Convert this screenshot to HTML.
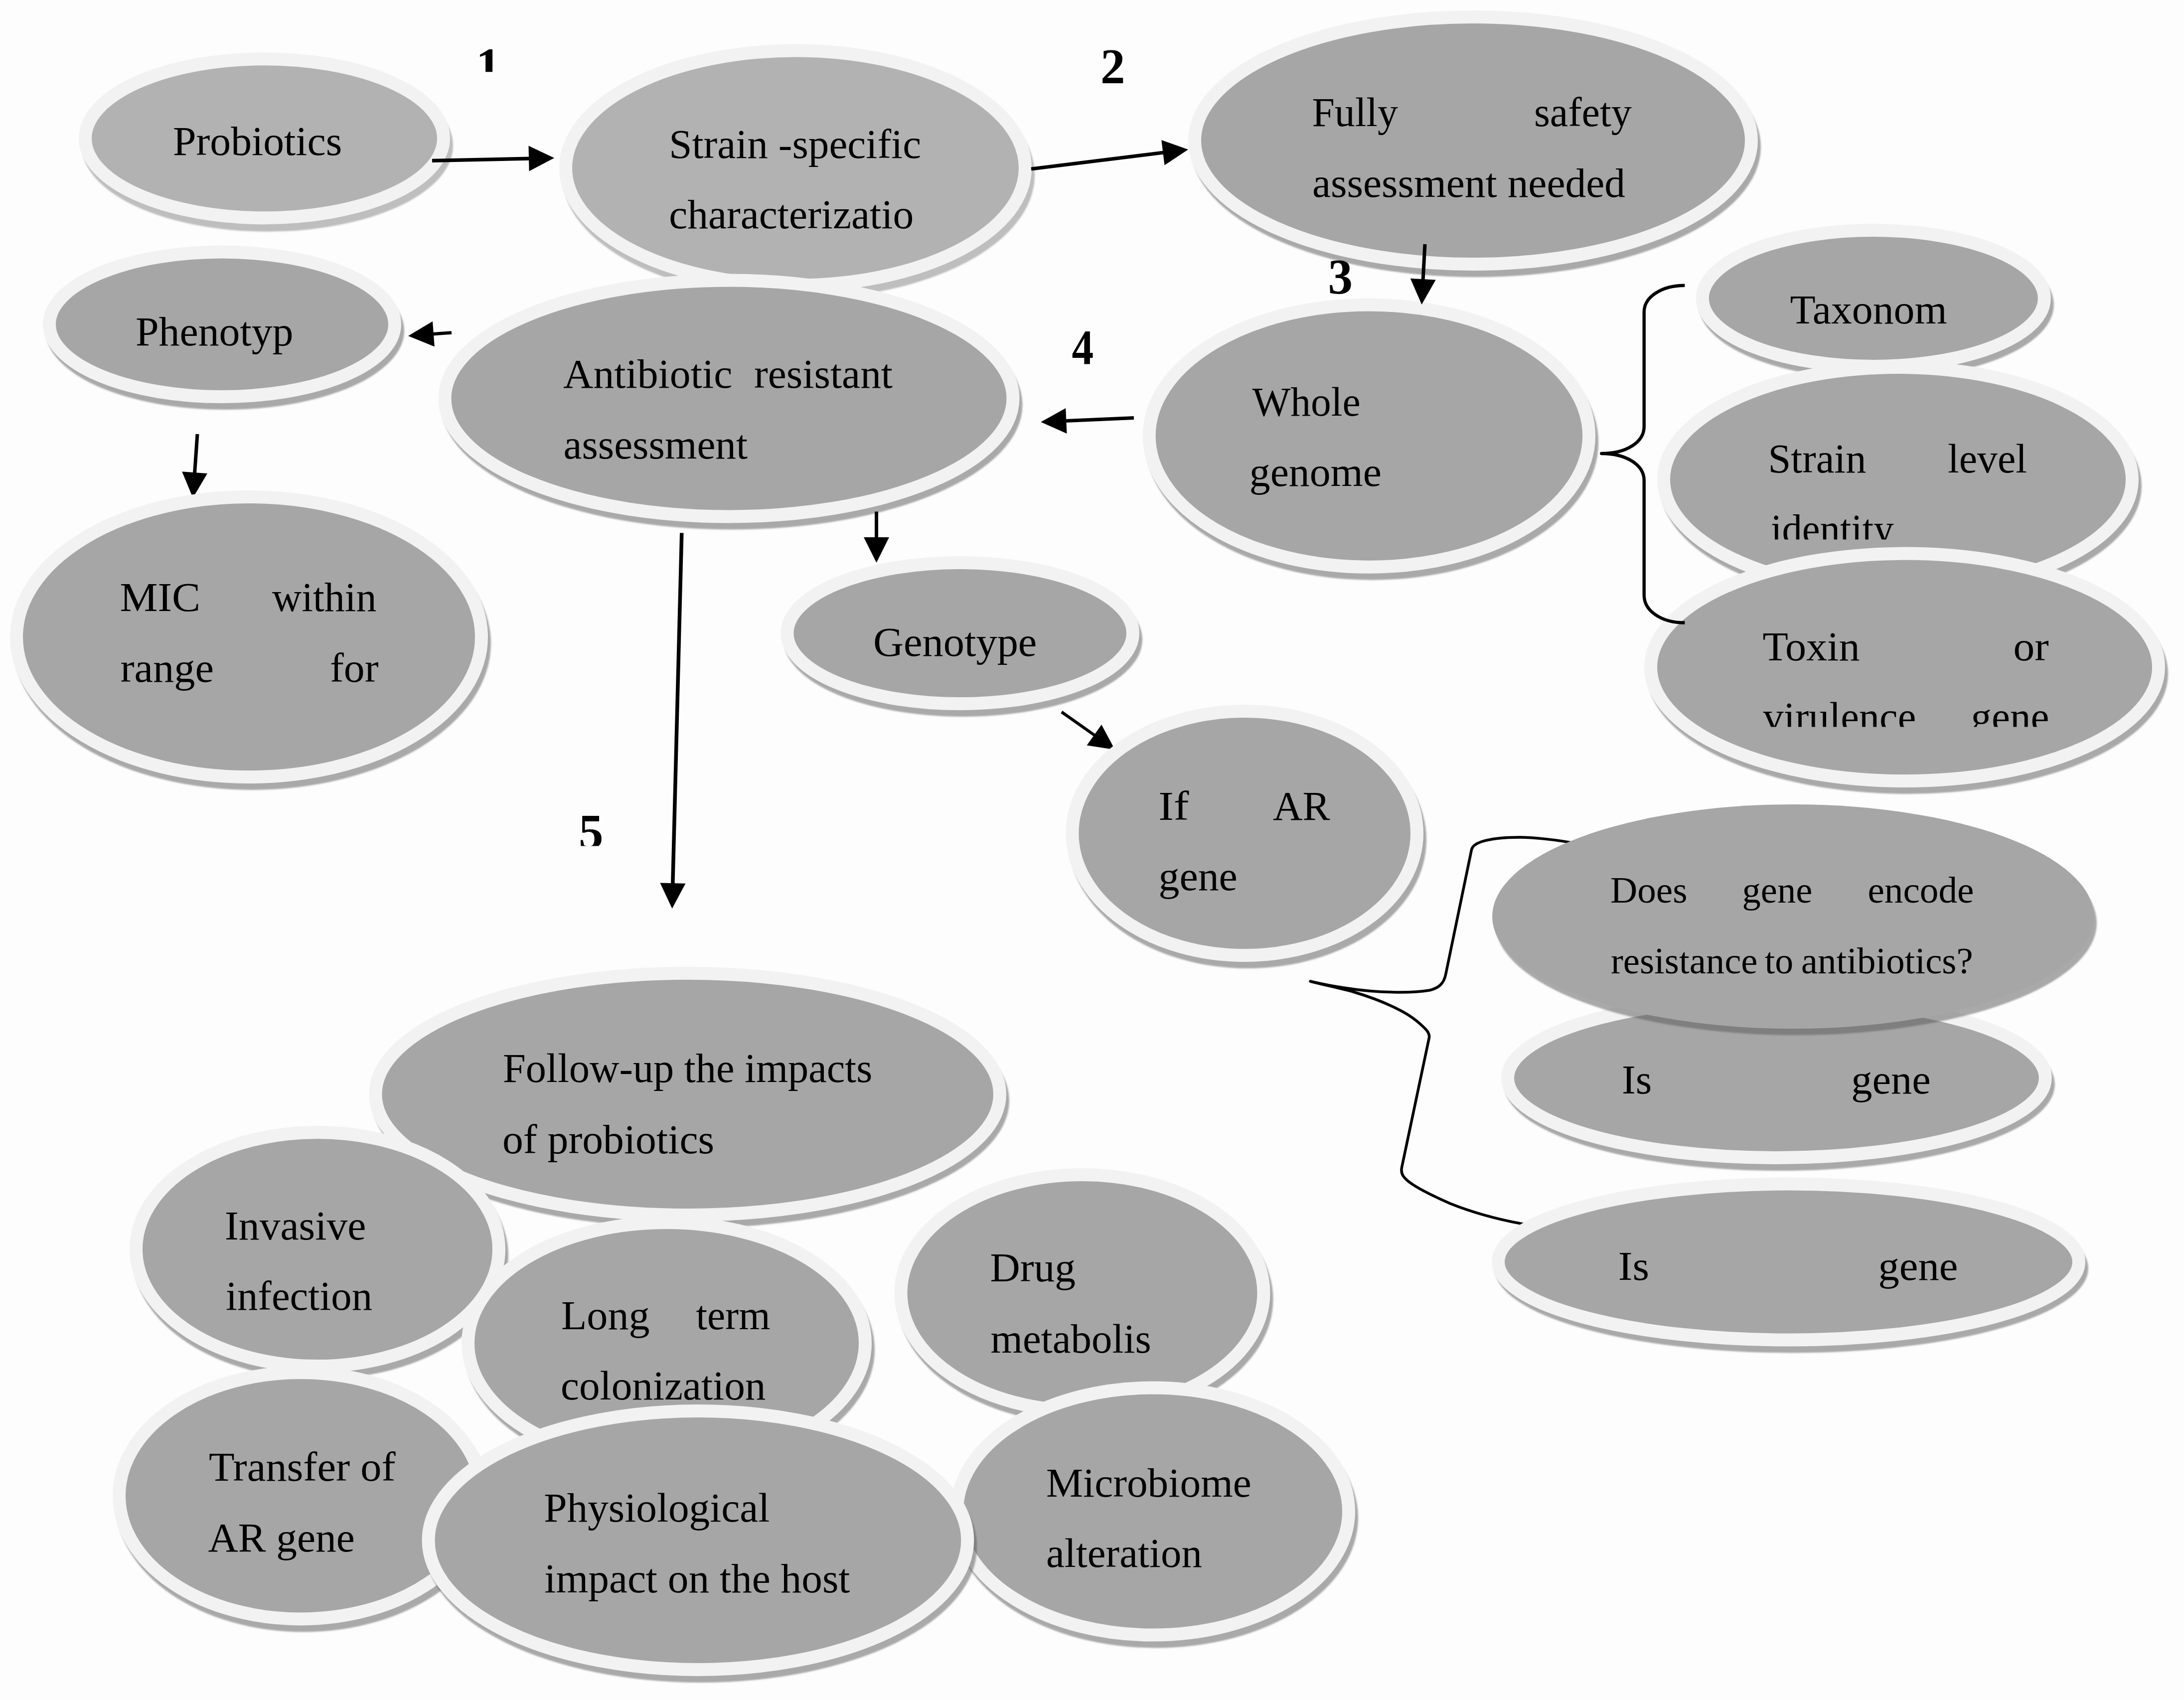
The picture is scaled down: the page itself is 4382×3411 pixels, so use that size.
<!DOCTYPE html><html><head><meta charset="utf-8"><title>Probiotics safety assessment</title>
<style>html,body{margin:0;padding:0;background:#fdfdfd}svg{display:block}text{font-family:"Liberation Serif",serif;fill:#000}.b{font-weight:bold}</style></head><body>
<svg width="4382" height="3411" viewBox="0 0 4382 3411">
<defs><filter id="bl" x="-5%" y="-5%" width="110%" height="115%"><feGaussianBlur stdDeviation="1.5"/></filter>
<clipPath id="c_slevel"><rect x="3400" y="980" width="700" height="102.5"/></clipPath>
<clipPath id="c_toxin"><rect x="3400" y="1350" width="900" height="108.5"/></clipPath>
<clipPath id="cn0"><rect x="925" y="44.5" width="160" height="99.7"/></clipPath>
<clipPath id="cn4"><rect x="1131" y="1582.4" width="160" height="115.2"/></clipPath>
</defs>
<rect width="4382" height="3411" fill="#fdfdfd"/>
<path d="M3165,1693 C3120,1684 3070,1680 3050,1680 C3020,1680 2990,1683 2972,1689 C2960,1693 2954,1698 2952.5,1705 L2900.5,1956 C2896.5,1975 2885,1983 2868,1987 C2850,1990 2830,1991 2810,1991 C2770,1991 2735,1988 2700,1982.5 C2675,1979 2650,1974 2629,1969 C2660,1977 2690,1983 2715,1990 C2745,1999 2775,2010 2800,2022.5 C2820,2032 2838,2044 2850,2055 C2860,2064 2869,2072 2867.5,2082 L2812.5,2342.5 C2810,2355 2815,2364 2835,2377 C2858,2392 2885,2404 2910,2415 C2955,2433 3005,2447 3062,2457" fill="none" stroke="#000" stroke-width="5.5" stroke-linecap="round" stroke-linejoin="round"/>
<ellipse cx="536.5" cy="292.2" rx="372.5" ry="172.5" fill="#000" fill-opacity="0.25" filter="url(#bl)"/><ellipse cx="530.5" cy="277.7" rx="359.5" ry="159.5" fill="#b2b2b2" stroke="#f2f2f2" stroke-width="26"/>
<ellipse cx="1602.0" cy="351.5" rx="474.0" ry="248.5" fill="#000" fill-opacity="0.25" filter="url(#bl)"/><ellipse cx="1596.0" cy="337.0" rx="461.0" ry="235.5" fill="#b2b2b2" stroke="#f2f2f2" stroke-width="26"/>
<ellipse cx="451.5" cy="663.8" rx="359.5" ry="158.2" fill="#5a5a5a" fill-opacity="0.52" filter="url(#bl)"/><ellipse cx="445.5" cy="650.8" rx="346.5" ry="145.2" fill="#a6a6a6" stroke="#f2f2f2" stroke-width="26"/>
<ellipse cx="1468.5" cy="812.5" rx="583.0" ry="250.0" fill="#5a5a5a" fill-opacity="0.52" filter="url(#bl)"/><ellipse cx="1462.5" cy="799.5" rx="570.0" ry="237.0" fill="#a6a6a6" stroke="#f2f2f2" stroke-width="26"/>
<line x1="396.0" y1="871.0" x2="390.5" y2="950.1" stroke="#000" stroke-width="7"/><polygon points="387.1,999.0 365.2,946.3 416.0,949.9" fill="#000"/>
<ellipse cx="505.5" cy="1291.0" rx="479.5" ry="294.0" fill="#5a5a5a" fill-opacity="0.52" filter="url(#bl)"/><ellipse cx="499.5" cy="1278.0" rx="466.5" ry="281.0" fill="#a6a6a6" stroke="#f2f2f2" stroke-width="26"/>
<ellipse cx="1932.2" cy="1283.5" rx="359.8" ry="154.5" fill="#5a5a5a" fill-opacity="0.52" filter="url(#bl)"/><ellipse cx="1926.2" cy="1270.5" rx="346.8" ry="141.5" fill="#a6a6a6" stroke="#f2f2f2" stroke-width="26"/>
<line x1="2130.0" y1="1428.5" x2="2197.0" y2="1475.9" stroke="#000" stroke-width="6"/><polygon points="2237.0,1504.2 2180.6,1495.6 2210.1,1453.9" fill="#000"/>
<ellipse cx="2503.2" cy="1685.0" rx="358.8" ry="258.0" fill="#5a5a5a" fill-opacity="0.52" filter="url(#bl)"/><ellipse cx="2497.2" cy="1672.0" rx="345.8" ry="245.0" fill="#a6a6a6" stroke="#f2f2f2" stroke-width="26"/>
<ellipse cx="2961.5" cy="295.0" rx="571.5" ry="261.0" fill="#5a5a5a" fill-opacity="0.52" filter="url(#bl)"/><ellipse cx="2955.5" cy="282.0" rx="558.5" ry="248.0" fill="#a6a6a6" stroke="#f2f2f2" stroke-width="26"/>
<ellipse cx="2752.9" cy="887.6" rx="454.2" ry="276.1" fill="#5a5a5a" fill-opacity="0.52" filter="url(#bl)"/><ellipse cx="2746.9" cy="874.6" rx="441.2" ry="263.1" fill="#a6a6a6" stroke="#f2f2f2" stroke-width="26"/>
<ellipse cx="3764.8" cy="611.5" rx="356.0" ry="149.5" fill="#5a5a5a" fill-opacity="0.52" filter="url(#bl)"/><ellipse cx="3758.8" cy="598.5" rx="343.0" ry="136.5" fill="#a6a6a6" stroke="#f2f2f2" stroke-width="26"/>
<ellipse cx="3814.0" cy="975.0" rx="483.0" ry="238.0" fill="#5a5a5a" fill-opacity="0.52" filter="url(#bl)"/><ellipse cx="3808.0" cy="962.0" rx="470.0" ry="225.0" fill="#a6a6a6" stroke="#f2f2f2" stroke-width="26"/>
<ellipse cx="3827.5" cy="1351.8" rx="522.5" ry="241.2" fill="#5a5a5a" fill-opacity="0.52" filter="url(#bl)"/><ellipse cx="3821.5" cy="1338.8" rx="509.5" ry="228.2" fill="#a6a6a6" stroke="#f2f2f2" stroke-width="26"/>
<ellipse cx="3570.4" cy="2176.0" rx="552.4" ry="173.0" fill="#5a5a5a" fill-opacity="0.52" filter="url(#bl)"/><ellipse cx="3564.4" cy="2163.0" rx="539.4" ry="160.0" fill="#a6a6a6" stroke="#f2f2f2" stroke-width="26"/>
<ellipse cx="3603.5" cy="1852.0" rx="603.5" ry="225.0" fill="#5a5a5a" fill-opacity="0.52" filter="url(#bl)"/><ellipse cx="3597.5" cy="1839.0" rx="603.5" ry="225.0" fill="#a6a6a6"/>
<ellipse cx="3594.5" cy="2545.0" rx="595.5" ry="169.5" fill="#5a5a5a" fill-opacity="0.52" filter="url(#bl)"/><ellipse cx="3588.5" cy="2532.0" rx="582.5" ry="156.5" fill="#a6a6a6" stroke="#f2f2f2" stroke-width="26"/>
<ellipse cx="1385.7" cy="2208.4" rx="639.3" ry="255.7" fill="#5a5a5a" fill-opacity="0.52" filter="url(#bl)"/><ellipse cx="1379.7" cy="2195.4" rx="626.3" ry="242.7" fill="#a6a6a6" stroke="#f2f2f2" stroke-width="26"/>
<ellipse cx="643.0" cy="2519.5" rx="377.0" ry="247.5" fill="#5a5a5a" fill-opacity="0.52" filter="url(#bl)"/><ellipse cx="637.0" cy="2506.5" rx="364.0" ry="234.5" fill="#a6a6a6" stroke="#f2f2f2" stroke-width="26"/>
<ellipse cx="1343.5" cy="2708.0" rx="411.5" ry="255.0" fill="#5a5a5a" fill-opacity="0.52" filter="url(#bl)"/><ellipse cx="1337.5" cy="2695.0" rx="398.5" ry="242.0" fill="#a6a6a6" stroke="#f2f2f2" stroke-width="26"/>
<ellipse cx="609.0" cy="3014.2" rx="377.0" ry="260.2" fill="#5a5a5a" fill-opacity="0.52" filter="url(#bl)"/><ellipse cx="603.0" cy="3001.2" rx="364.0" ry="247.2" fill="#a6a6a6" stroke="#f2f2f2" stroke-width="26"/>
<ellipse cx="2177.5" cy="2607.0" rx="377.0" ry="250.0" fill="#5a5a5a" fill-opacity="0.52" filter="url(#bl)"/><ellipse cx="2171.5" cy="2594.0" rx="364.0" ry="237.0" fill="#a6a6a6" stroke="#f2f2f2" stroke-width="26"/>
<ellipse cx="2319.0" cy="3045.5" rx="406.0" ry="261.0" fill="#5a5a5a" fill-opacity="0.52" filter="url(#bl)"/><ellipse cx="2313.0" cy="3032.5" rx="393.0" ry="248.0" fill="#a6a6a6" stroke="#f2f2f2" stroke-width="26"/>
<ellipse cx="1406.4" cy="3103.5" rx="553.9" ry="272.5" fill="#5a5a5a" fill-opacity="0.52" filter="url(#bl)"/><ellipse cx="1400.4" cy="3090.5" rx="540.9" ry="259.5" fill="#a6a6a6" stroke="#f2f2f2" stroke-width="26"/>
<path d="M3380.3,572.8 C3335,572.8 3298.7,595 3298.7,626 L3298.7,856 C3298.7,888 3262,910 3213.3,910 C3262,910 3298.7,932 3298.7,964 L3298.7,1194 C3298.7,1227 3335,1249.5 3380.3,1249.5" fill="none" stroke="#000" stroke-width="6.4" stroke-linejoin="round"/>
<line x1="867.0" y1="322.4" x2="1063.0" y2="318.1" stroke="#000" stroke-width="7.4"/><polygon points="1112.0,317.0 1061.6,343.6 1060.5,292.6" fill="#000"/>
<line x1="2069.0" y1="339.0" x2="2335.4" y2="306.0" stroke="#000" stroke-width="7"/><polygon points="2384.0,300.0 2336.5,331.6 2330.3,281.0" fill="#000"/>
<line x1="2859.0" y1="490.0" x2="2855.1" y2="562.1" stroke="#000" stroke-width="7"/><polygon points="2852.5,611.0 2829.8,558.7 2880.7,561.4" fill="#000"/>
<line x1="2275.0" y1="838.6" x2="2137.4" y2="844.6" stroke="#000" stroke-width="7"/><polygon points="2088.4,846.8 2138.2,819.1 2140.5,870.0" fill="#000"/>
<line x1="906.0" y1="667.5" x2="867.9" y2="670.3" stroke="#000" stroke-width="6.5"/><polygon points="819.0,674.0 868.0,644.8 871.8,695.6" fill="#000"/>
<line x1="1758.5" y1="1026.5" x2="1758.5" y2="1080.0" stroke="#000" stroke-width="7"/><polygon points="1758.5,1129.0 1733.0,1078.0 1784.0,1078.0" fill="#000"/>
<line x1="1367.8" y1="1069.3" x2="1349.8" y2="1774.0" stroke="#000" stroke-width="7.5"/><polygon points="1348.6,1823.0 1324.4,1771.4 1375.4,1772.7" fill="#000"/>
<text id="t0" x="346.98" y="311.0" font-size="83" textLength="339.33" lengthAdjust="spacingAndGlyphs">Probiotics</text>
<text id="t1" x="1342.19" y="317.0" font-size="83" textLength="505.96" lengthAdjust="spacingAndGlyphs">Strain -specific</text>
<text id="t2" x="1342.18" y="458.0" font-size="83" textLength="491.03" lengthAdjust="spacingAndGlyphs">characterizatio</text>
<text id="t3" x="271.98" y="692.5" font-size="83" textLength="316.54" lengthAdjust="spacingAndGlyphs">Phenotyp</text>
<text id="t4" x="1130.00" y="777.5" font-size="83" textLength="339.35" lengthAdjust="spacingAndGlyphs">Antibiotic</text>
<text id="t5" x="1512.99" y="777.5" font-size="83" textLength="278.07" lengthAdjust="spacingAndGlyphs">resistant</text>
<text id="t6" x="1130.50" y="920.0" font-size="83" textLength="369.56" lengthAdjust="spacingAndGlyphs">assessment</text>
<text id="t7" x="240.44" y="1226.0" font-size="83" textLength="161.55" lengthAdjust="spacingAndGlyphs">MIC</text>
<text id="t8" x="546.00" y="1226.0" font-size="83" textLength="209.49" lengthAdjust="spacingAndGlyphs">within</text>
<text id="t9" x="241.48" y="1367.5" font-size="83" textLength="187.40" lengthAdjust="spacingAndGlyphs">range</text>
<text id="t10" x="661.98" y="1367.5" font-size="83" textLength="97.66" lengthAdjust="spacingAndGlyphs">for</text>
<text id="t11" x="1751.95" y="1316.0" font-size="83" textLength="328.44" lengthAdjust="spacingAndGlyphs">Genotype</text>
<text id="t12" x="2324.17" y="1644.5" font-size="83" textLength="61.43" lengthAdjust="spacingAndGlyphs">If</text>
<text id="t13" x="2554.00" y="1644.5" font-size="83" textLength="114.37" lengthAdjust="spacingAndGlyphs">AR</text>
<text id="t14" x="2324.47" y="1785.5" font-size="83" textLength="158.40" lengthAdjust="spacingAndGlyphs">gene</text>
<text id="t15" x="2632.43" y="253.0" font-size="83" textLength="172.48" lengthAdjust="spacingAndGlyphs">Fully</text>
<text id="t16" x="3077.93" y="253.0" font-size="83" textLength="195.87" lengthAdjust="spacingAndGlyphs">safety</text>
<text id="t17" x="2632.99" y="394.7" font-size="83" textLength="627.91" lengthAdjust="spacingAndGlyphs">assessment needed</text>
<text id="t18" x="2512.50" y="833.6" font-size="83" textLength="217.09" lengthAdjust="spacingAndGlyphs">Whole</text>
<text id="t19" x="2506.77" y="974.8" font-size="83" textLength="265.09" lengthAdjust="spacingAndGlyphs">genome</text>
<text id="t20" x="3591.49" y="649.0" font-size="83" textLength="315.07" lengthAdjust="spacingAndGlyphs">Taxonom</text>
<text id="t21" x="3547.53" y="947.5" font-size="83" textLength="196.96" lengthAdjust="spacingAndGlyphs">Strain</text>
<text id="t22" x="3908.01" y="947.5" font-size="83" textLength="159.03" lengthAdjust="spacingAndGlyphs">level</text>
<text id="t23" x="3553.03" y="1088.5" font-size="83" textLength="246.49" lengthAdjust="spacingAndGlyphs" clip-path="url(#c_slevel)">identity</text>
<text id="t24" x="3536.49" y="1325.0" font-size="83" textLength="195.02" lengthAdjust="spacingAndGlyphs">Toxin</text>
<text id="t25" x="4039.41" y="1325.0" font-size="83" textLength="71.25" lengthAdjust="spacingAndGlyphs">or</text>
<text id="t26" x="3537.50" y="1466.0" font-size="83" textLength="306.82" lengthAdjust="spacingAndGlyphs" clip-path="url(#c_toxin)">virulence</text>
<text id="t27" x="3954.50" y="1466.0" font-size="83" textLength="156.85" lengthAdjust="spacingAndGlyphs" clip-path="url(#c_toxin)">gene</text>
<text id="t28" x="3231.00" y="1810.6" font-size="75" textLength="154.39" lengthAdjust="spacingAndGlyphs">Does</text>
<text id="t29" x="3495.52" y="1810.6" font-size="75" textLength="140.76" lengthAdjust="spacingAndGlyphs">gene</text>
<text id="t30" x="3747.49" y="1810.6" font-size="75" textLength="213.00" lengthAdjust="spacingAndGlyphs">encode</text>
<text id="t31" x="3232.00" y="1953.4" font-size="75" textLength="294.48" lengthAdjust="spacingAndGlyphs">resistance</text>
<text id="t32" x="3540.70" y="1953.4" font-size="75" textLength="57.36" lengthAdjust="spacingAndGlyphs">to</text>
<text id="t33" x="3613.80" y="1953.4" font-size="75" textLength="344.88" lengthAdjust="spacingAndGlyphs">antibiotics?</text>
<text id="t34" x="3253.98" y="2193.5" font-size="83" textLength="60.34" lengthAdjust="spacingAndGlyphs">Is</text>
<text id="t35" x="3714.24" y="2193.5" font-size="83" textLength="159.65" lengthAdjust="spacingAndGlyphs">gene</text>
<text id="t36" x="3246.88" y="2568.0" font-size="83" textLength="62.31" lengthAdjust="spacingAndGlyphs">Is</text>
<text id="t37" x="3768.44" y="2568.0" font-size="83" textLength="160.07" lengthAdjust="spacingAndGlyphs">gene</text>
<text id="t38" x="1009.02" y="2170.5" font-size="83" textLength="741.27" lengthAdjust="spacingAndGlyphs">Follow-up the impacts</text>
<text id="t39" x="1007.98" y="2313.5" font-size="83" textLength="425.14" lengthAdjust="spacingAndGlyphs">of probiotics</text>
<text id="t40" x="450.98" y="2486.5" font-size="83" textLength="283.39" lengthAdjust="spacingAndGlyphs">Invasive</text>
<text id="t41" x="453.00" y="2627.5" font-size="83" textLength="293.99" lengthAdjust="spacingAndGlyphs">infection</text>
<text id="t42" x="1125.97" y="2667.0" font-size="83" textLength="177.55" lengthAdjust="spacingAndGlyphs">Long</text>
<text id="t43" x="1396.40" y="2667.0" font-size="83" textLength="149.15" lengthAdjust="spacingAndGlyphs">term</text>
<text id="t44" x="1124.99" y="2807.7" font-size="83" textLength="411.51" lengthAdjust="spacingAndGlyphs">colonization</text>
<text id="t45" x="418.98" y="2971.0" font-size="83" textLength="374.65" lengthAdjust="spacingAndGlyphs">Transfer of</text>
<text id="t46" x="417.50" y="3112.5" font-size="83" textLength="294.36" lengthAdjust="spacingAndGlyphs">AR gene</text>
<text id="t47" x="1986.49" y="2571.2" font-size="83" textLength="171.52" lengthAdjust="spacingAndGlyphs">Drug</text>
<text id="t48" x="1987.50" y="2713.7" font-size="83" textLength="322.19" lengthAdjust="spacingAndGlyphs">metabolis</text>
<text id="t49" x="2098.99" y="3002.5" font-size="83" textLength="411.86" lengthAdjust="spacingAndGlyphs">Microbiome</text>
<text id="t50" x="2099.00" y="3144.3" font-size="83" textLength="312.90" lengthAdjust="spacingAndGlyphs">alteration</text>
<text id="t51" x="1091.29" y="3052.5" font-size="83" textLength="453.07" lengthAdjust="spacingAndGlyphs">Physiological</text>
<text id="t52" x="1092.30" y="3195.3" font-size="83" textLength="613.16" lengthAdjust="spacingAndGlyphs">impact on the host</text>
<text class="b" id="n0" x="955" y="164.5" font-size="99" clip-path="url(#cn0)">1</text>
<text class="b" id="n1" x="2208" y="165.5" font-size="99">2</text>
<text class="b" id="n2" x="2664.5" y="588" font-size="99">3</text>
<text class="b" id="n3" x="2150.5" y="729.5" font-size="99" textLength="43.7" lengthAdjust="spacingAndGlyphs">4</text>
<text class="b" id="n4" x="1161" y="1702.4" font-size="99" clip-path="url(#cn4)">5</text>
</svg></body></html>
